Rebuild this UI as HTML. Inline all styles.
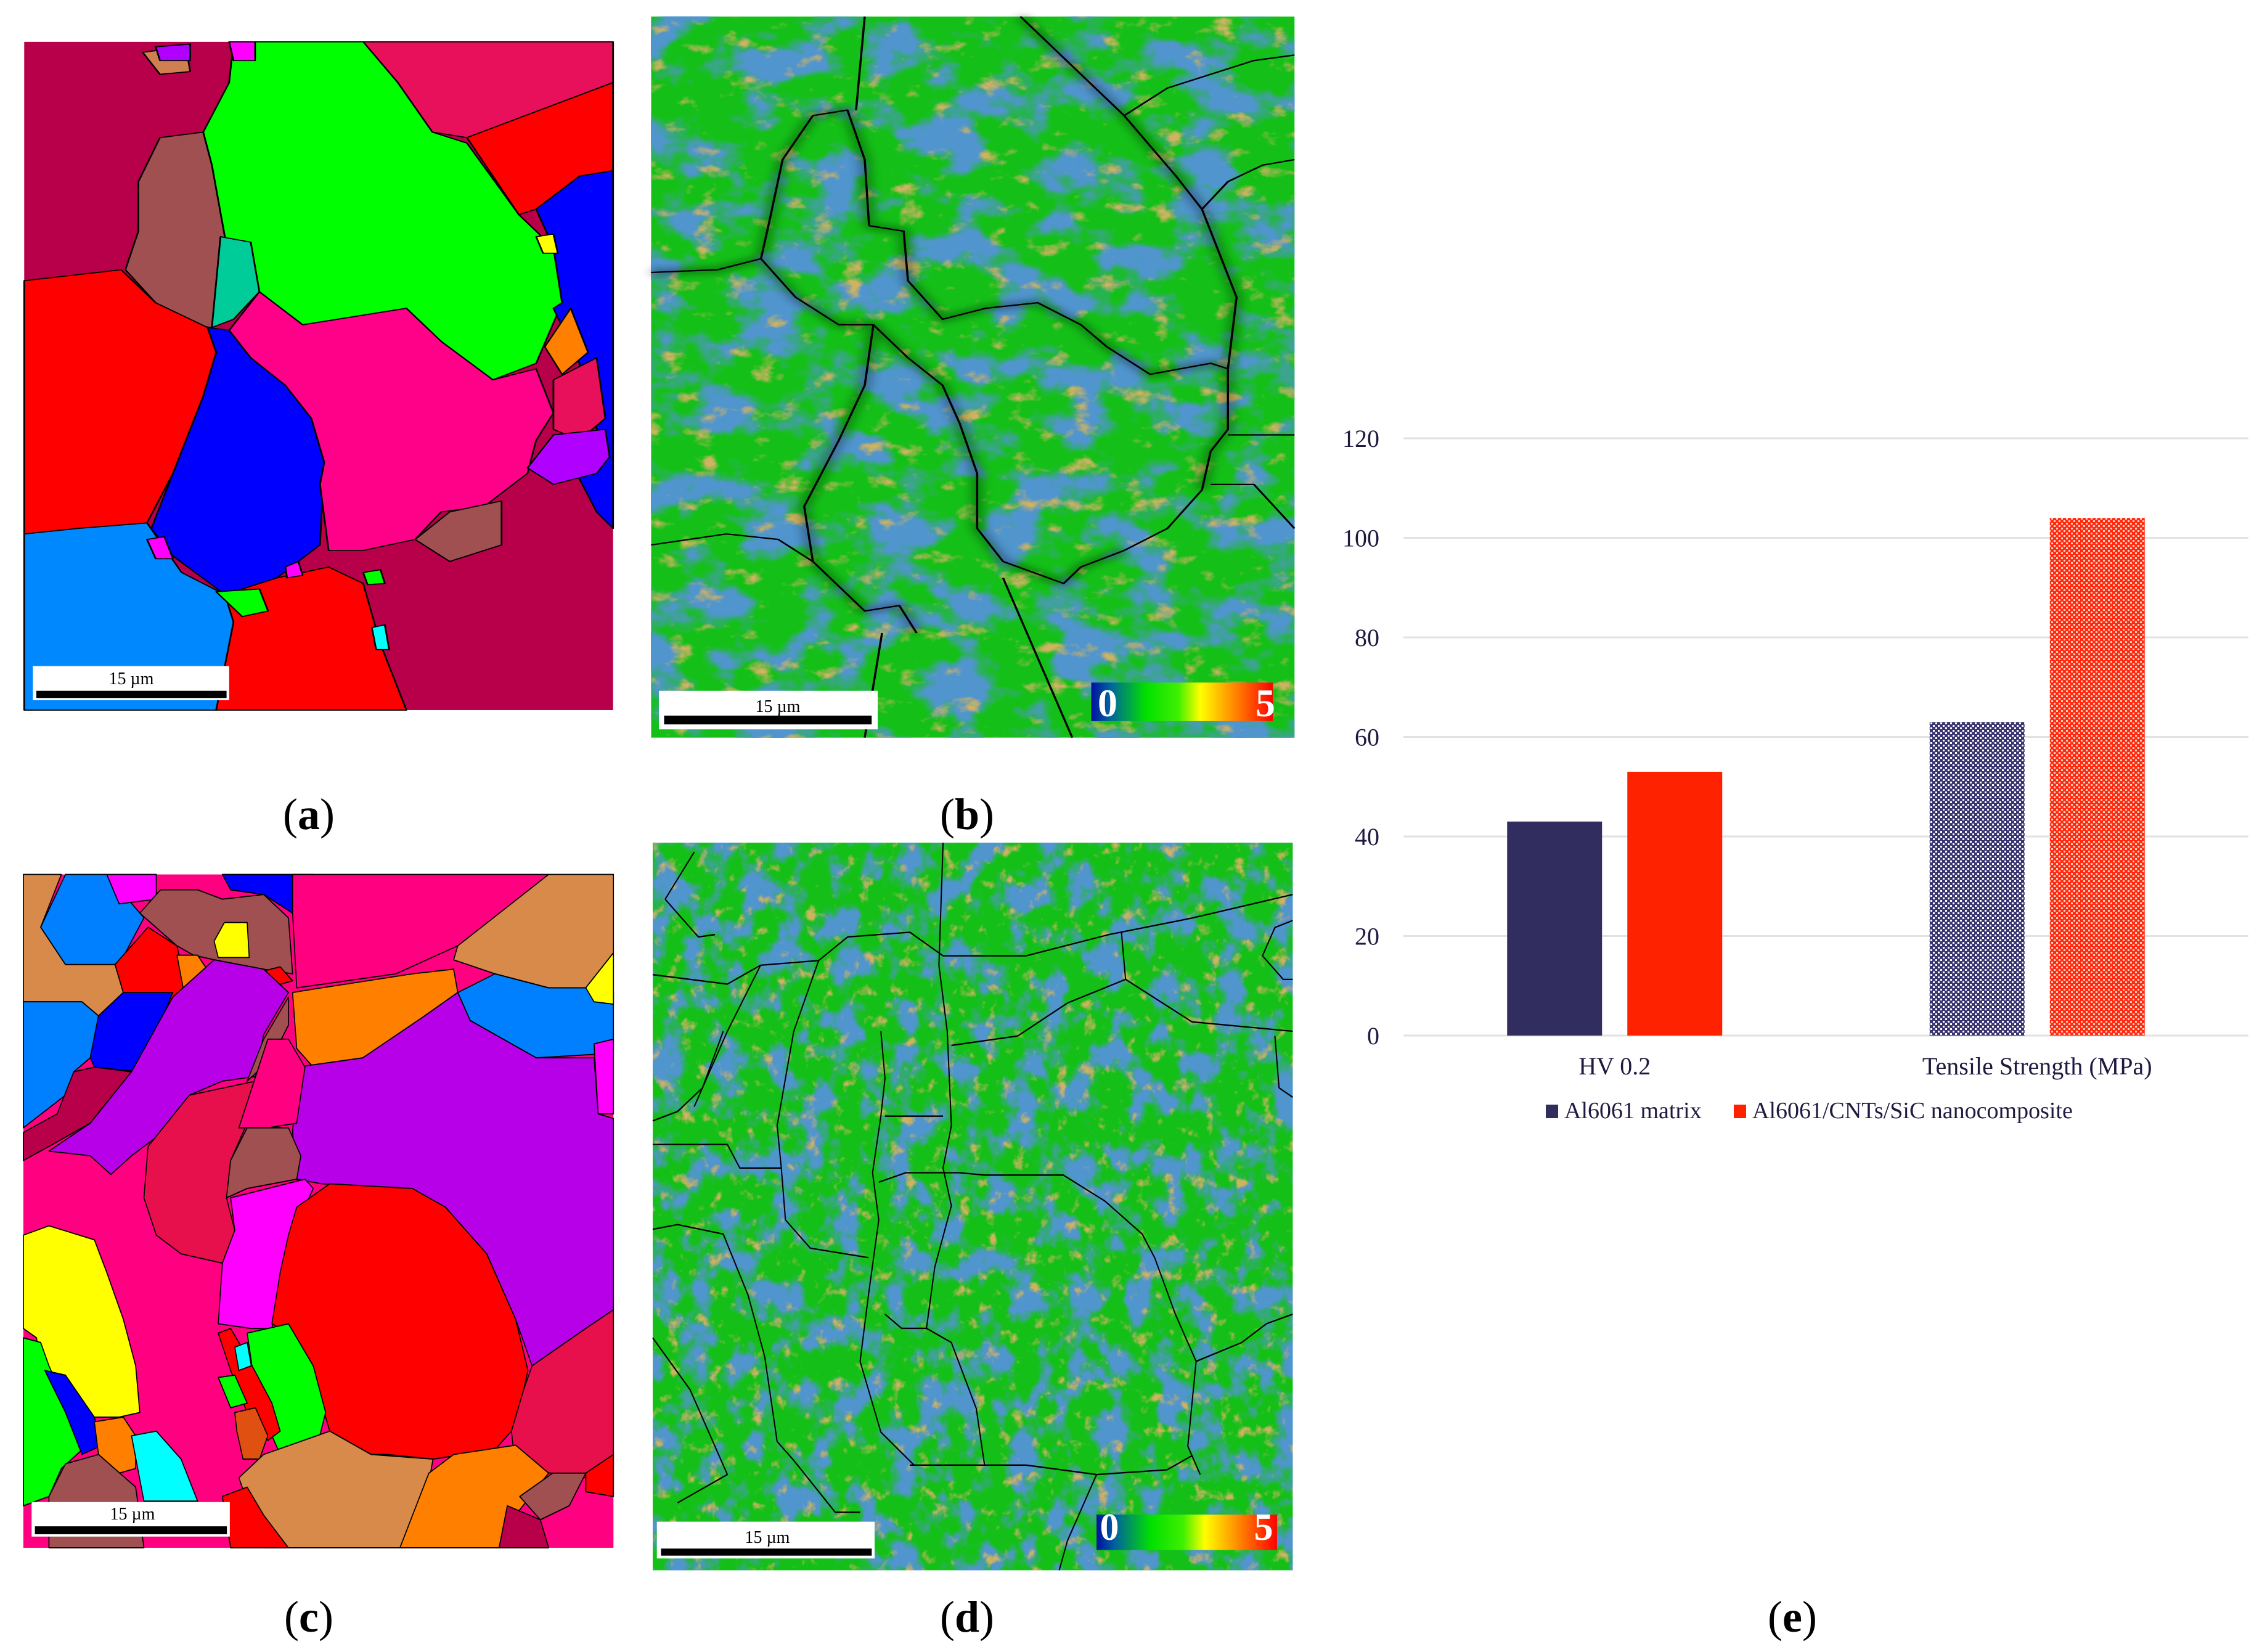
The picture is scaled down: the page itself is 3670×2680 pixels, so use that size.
<!DOCTYPE html>
<html><head><meta charset="utf-8"><style>
html,body{margin:0;padding:0;background:#fff;}
svg{display:block;}
text{font-family:"Liberation Serif",serif;}
</style></head><body>
<svg id="fig" width="3670" height="2680" viewBox="0 0 3670 2680" xmlns="http://www.w3.org/2000/svg">
<defs>
  <filter id="blueNoise" x="0" y="0" width="1" height="1">
    <feTurbulence type="fractalNoise" baseFrequency="0.014" numOctaves="4" seed="3"/>
    <feColorMatrix type="matrix" values="0 0 0 0 0.08  0 0 0 0 0.3  0 0 0 0 0.62  5 0 0 0 -2.3"/>
  </filter>
  <filter id="orangeNoise" x="0" y="0" width="1" height="1">
    <feTurbulence type="fractalNoise" baseFrequency="0.03" numOctaves="4" seed="11"/>
    <feColorMatrix type="matrix" values="0 0 0 0 0.62  0 0 0 0 0.45  0 0 0 0 0.12  4.5 0 0 0 -2.75"/>
  </filter>
  <filter id="blurDark"><feGaussianBlur stdDeviation="6"/></filter>
  <linearGradient id="cbar" x1="0" x2="1" y1="0" y2="0">
    <stop offset="0" stop-color="#0010a0"/><stop offset="0.1" stop-color="#0060a0"/>
    <stop offset="0.3" stop-color="#00e000"/><stop offset="0.48" stop-color="#40f000"/>
    <stop offset="0.6" stop-color="#ffff00"/><stop offset="0.8" stop-color="#ff8000"/>
    <stop offset="1" stop-color="#ff0000"/>
  </linearGradient>
  <pattern id="patNavy" width="8" height="8" patternUnits="userSpaceOnUse">
    <rect width="8" height="8" fill="#3a3570"/>
    <rect x="0" y="0" width="3" height="3" fill="#ffffff"/>
    <rect x="4" y="4" width="3" height="3" fill="#ffffff"/>
  </pattern>
  <pattern id="patRed" width="8" height="8" patternUnits="userSpaceOnUse">
    <rect width="8" height="8" fill="#ff2a10"/>
    <rect x="0" y="0" width="3" height="3" fill="#ffd0c0"/>
    <rect x="4" y="4" width="3" height="3" fill="#ffd0c0"/>
  </pattern>
</defs>

<!-- Panel (a) -->
<g transform="scale(1.403,0.893)" stroke="#000" stroke-width="2" stroke-linejoin="round">
  <rect x="28" y="76" width="681" height="1214" fill="#b8004a" stroke="none"/>
  <polygon fill="#e8105a" points="420,76 709,76 709,150 540,250 500,240 460,150"/>
  <polygon fill="#00ff00" points="270,76 420,76 460,150 500,240 540,260 600,390 640,450 650,550 620,660 570,690 510,620 470,560 350,590 300,530 260,430 245,300 235,240 265,150"/>
  <polygon fill="#ff0000" points="540,250 709,150 709,310 670,320 620,380 600,390"/>
  <polygon fill="#0000ff" points="620,380 670,320 709,310 709,960 690,930 670,870 690,780 670,660 640,560 650,550 640,450"/>
  <polygon fill="#a05050" points="160,330 185,250 235,240 245,300 260,430 255,520 245,595 220,590 180,550 145,490 160,420"/>
  <polygon fill="#00cc99" points="255,430 290,440 300,530 270,580 245,595"/>
  <polygon fill="#ff0000" points="28,510 140,490 180,550 240,595 250,640 235,720 200,860 170,950 90,960 28,970"/>
  <polygon fill="#0000ff" points="240,595 265,600 290,650 330,700 360,760 375,840 370,990 320,1050 260,1080 200,1010 175,960 200,860 235,720 250,640"/>
  <polygon fill="#ff0088" points="265,600 300,530 350,590 470,560 510,620 570,690 620,670 640,750 620,800 610,860 560,920 510,930 480,980 420,1000 380,1000 370,880 375,840 360,760 330,700 290,650"/>
  <polygon fill="#ff8000" points="630,630 660,560 680,640 650,680"/>
  <polygon fill="#e8105a" points="640,690 690,650 700,760 670,800 640,780"/>
  <polygon fill="#b000ff" points="610,850 640,790 700,780 705,830 690,860 640,880"/>
  <polygon fill="#a05050" points="480,980 520,930 580,910 580,990 520,1020"/>
  <polygon fill="#0088ff" points="28,970 90,960 170,950 210,1040 260,1080 280,1130 250,1290 28,1290"/>
  <polygon fill="#ff0000" points="260,1080 320,1050 380,1030 420,1060 440,1170 470,1290 250,1290 270,1130"/>
  <polygon fill="#ff00ff" points="330,1030 345,1020 350,1045 332,1050"/>
  <polygon fill="#00ff00" points="250,1075 300,1070 310,1110 280,1120"/>
  <polygon fill="#00ff00" points="420,1040 440,1035 445,1060 425,1062"/>
  <polygon fill="#ff00ff" points="170,980 190,975 200,1015 180,1015"/>
  <polygon fill="#ffff00" points="620,430 640,425 645,460 628,460"/>
  <polygon fill="#00ffff" points="430,1140 445,1135 450,1180 435,1180"/>
  <polygon fill="#ff00ff" points="265,76 295,76 295,110 270,110"/>
  <polygon fill="#d08050" points="165,95 215,85 220,130 185,135"/>
  <polygon fill="#b000ff" points="180,85 220,80 220,110 185,110"/>
  <rect x="38" y="1210" width="227" height="62" fill="#fff" stroke="none"/>
  <rect x="42" y="1255" width="220" height="13" fill="#000" stroke="none"/>
</g>
<text x="213" y="1110" font-size="28" text-anchor="middle" fill="#000" font-family="Liberation Sans, sans-serif">15 µm</text>

<!-- Panel (b) -->
<g transform="scale(1.403,0.893)">
  <rect x="753" y="30" width="744" height="1310" fill="#14c018"/>
  <rect x="753" y="30" width="744" height="1310" fill="#000" filter="url(#blueNoise)"/>
  <rect x="753" y="30" width="744" height="1310" fill="#000" filter="url(#orangeNoise)"/>
  <g fill="none" stroke-linejoin="round">
    <g stroke="#000" stroke-width="14" opacity="0.3" filter="url(#blurDark)">
      <polyline points="940,210 905,290 890,400 880,470 830,490 753,495"/>
      <polyline points="940,210 980,200 1000,290 1005,410 1045,420 1050,510 1090,580 1140,560 1200,550 1250,590 1280,630 1330,680 1400,660 1420,670"/>
      <polyline points="1180,30 1240,120 1300,210 1360,320 1390,380 1430,540 1420,670 1420,780 1400,820 1390,890"/>
      <polyline points="880,470 920,540 970,590 1010,590 1000,700 970,800 930,920 940,1020 980,1080 1000,1110 1040,1100 1060,1150"/>
      <polyline points="1010,590 1050,650 1090,700 1110,770 1130,860 1130,960 1160,1020 1230,1060 1250,1030 1300,1000"/>
    </g>
    <g stroke="#000" stroke-width="2.5">
      <polyline points="940,210 905,290 890,400 880,470 830,490 753,495"/>
      <polyline points="940,210 980,200 1000,290 1005,410 1045,420 1050,510 1090,580 1140,560 1200,550 1250,590 1280,630 1330,680 1400,660 1420,670"/>
      <polyline points="1000,30 990,200"/>
      <polyline points="1180,30 1240,120 1300,210 1360,320 1390,380 1430,540 1420,670 1420,780 1400,820 1390,890"/>
      <polyline points="880,470 920,540 970,590 1010,590 1000,700 970,800 930,920 940,1020 980,1080 1000,1110 1040,1100 1060,1150"/>
      <polyline points="1010,590 1050,650 1090,700 1110,770 1130,860 1130,960 1160,1020 1230,1060 1250,1030 1300,1000"/>
      <polyline points="753,990 840,970 900,980 940,1020"/>
      <polyline points="1300,210 1350,160 1450,110 1497,100"/>
      <polyline points="1390,380 1420,330 1460,300 1497,290"/>
      <polyline points="1420,790 1497,790"/>
      <polyline points="1400,880 1450,880 1497,960"/>
      <polyline points="1020,1150 1000,1340"/>
      <polyline points="1160,1050 1240,1340"/>
      <polyline points="1300,1000 1350,960 1390,890"/>
    </g>
  </g>
  <rect x="1262" y="1240" width="210" height="70" fill="url(#cbar)"/>
  <rect x="762" y="1255" width="253" height="70" fill="#fff"/>
  <rect x="768" y="1300" width="240" height="16" fill="#000"/>
</g>
<text x="1262" y="1155" font-size="28" text-anchor="middle" fill="#000" font-family="Liberation Sans, sans-serif">15 µm</text>
<text x="1797" y="1162" font-size="64" text-anchor="middle" fill="#fff" font-weight="bold">0</text>
<text x="2053" y="1162" font-size="64" text-anchor="middle" fill="#fff" font-weight="bold">5</text>

<!-- Panel (c) -->
<g transform="translate(-1,1383) scale(0.670,0.757)" stroke="#000" stroke-width="2.5" stroke-linejoin="round">
  <rect x="58" y="47" width="1429" height="1443" fill="#ff0080" stroke="none"/>
  <polygon fill="#d88a4a" points="58,47 150,47 100,160 160,240 280,240 300,300 240,350 200,320 58,320"/>
  <polygon fill="#0080ff" points="160,47 260,47 350,140 290,240 160,240 100,160"/>
  <polygon fill="#ff00ff" points="260,47 380,47 380,100 290,110"/>
  <polygon fill="#a05050" points="340,130 390,80 480,80 540,100 640,90 700,140 710,260 640,250 520,230 470,220 430,200"/>
  <polygon fill="#0000ff" points="540,47 760,47 710,130 640,90 560,80"/>
  <polygon fill="#ff0080" points="710,47 1330,47 1250,140 1110,200 960,260 720,290 710,130"/>
  <polygon fill="#d88a4a" points="1110,200 1330,47 1487,47 1487,215 1420,290 1330,290 1200,260 1100,230"/>
  <polygon fill="#ffff00" points="520,190 545,150 600,150 605,225 530,225"/>
  <polygon fill="#ff0000" points="280,240 360,160 430,200 460,320 420,320 300,300"/>
  <polygon fill="#ff8000" points="430,220 480,220 510,260 470,290 445,290"/>
  <polygon fill="#ff0000" points="635,255 680,245 710,275 650,290"/>
  <polygon fill="#0080ff" points="58,320 200,320 240,350 220,440 180,470 160,520 58,590"/>
  <polygon fill="#0000ff" points="240,350 300,300 420,300 340,470 230,460 220,440"/>
  <polygon fill="#b8004a" points="58,600 140,560 180,470 230,460 320,470 220,580 120,630 58,660"/>
  <polygon fill="#b800e8" points="120,640 220,580 320,470 420,310 520,230 640,250 700,300 640,390 620,480 540,490 460,520 380,610 320,650 270,690 220,650"/>
  <polygon fill="#ff8000" points="710,300 780,290 1000,260 1100,250 1110,300 1030,350 960,400 880,440 760,460 720,420"/>
  <polygon fill="#0080ff" points="1110,300 1200,260 1330,290 1420,290 1487,300 1487,430 1300,440 1220,400 1140,360"/>
  <polygon fill="#ffff00" points="1487,215 1487,325 1440,320 1420,290"/>
  <polygon fill="#a05050" points="600,490 640,400 700,310 700,370 660,440"/>
  <polygon fill="#b800e8" points="720,460 880,440 1030,350 1110,300 1140,360 1220,400 1300,440 1440,440 1450,560 1487,570 1487,980 1420,1020 1290,1100 1250,1000 1180,860 1080,760 1000,720 780,710 720,700 710,600"/>
  <polygon fill="#ff00ff" points="1440,410 1487,400 1487,560 1450,560"/>
  <polygon fill="#e8104c" points="360,630 460,520 620,490 600,580 560,660 550,740 570,810 540,880 440,860 380,820 350,740"/>
  <polygon fill="#ff0080" points="580,590 650,400 700,400 740,460 720,580 650,590"/>
  <polygon fill="#a05050" points="560,660 600,590 700,590 730,650 720,700 600,720 550,740"/>
  <polygon fill="#ff00ff" points="560,740 740,700 760,720 720,800 680,900 660,1020 610,1020 530,1010 540,880 570,810"/>
  <polygon fill="#ff0000" points="720,760 800,710 1000,720 1080,760 1180,860 1250,1000 1280,1110 1250,1230 1200,1280 1050,1300 940,1290 900,1290 800,1240 770,1150 740,1080 700,1030 660,1010 680,900 700,820"/>
  <polygon fill="#e8104c" points="1290,1100 1420,1020 1487,980 1487,1320 1420,1340 1250,1320 1240,1240 1270,1150"/>
  <polygon fill="#ffff00" points="58,820 120,800 230,830 260,900 300,1000 330,1100 340,1200 290,1210 230,1210 160,1160 100,1100 90,1040 58,1020"/>
  <polygon fill="#00ff00" points="58,1040 100,1050 120,1100 160,1180 200,1280 150,1320 120,1380 58,1400"/>
  <polygon fill="#0000ff" points="110,1110 160,1120 230,1210 250,1270 200,1290 160,1200"/>
  <polygon fill="#ff8000" points="230,1220 300,1210 330,1250 330,1320 290,1330 240,1290"/>
  <polygon fill="#00ffff" points="320,1250 380,1240 440,1300 480,1390 350,1390"/>
  <polygon fill="#a05050" points="120,1380 160,1310 240,1290 330,1360 350,1490 120,1490"/>
  <polygon fill="#00ff00" points="600,1030 700,1010 760,1100 790,1200 770,1270 680,1290 650,1230 620,1150"/>
  <polygon fill="#ff0000" points="530,1030 560,1020 600,1080 660,1180 680,1240 650,1260 600,1200 560,1110"/>
  <polygon fill="#00ffff" points="570,1060 600,1050 610,1100 580,1110"/>
  <polygon fill="#00ff00" points="530,1125 570,1120 600,1180 560,1190"/>
  <polygon fill="#e05010" points="570,1200 620,1190 650,1250 630,1300 590,1300 575,1240"/>
  <polygon fill="#d88a4a" points="580,1340 640,1290 800,1240 900,1290 1050,1300 1040,1350 970,1490 640,1490"/>
  <polygon fill="#ff8000" points="1040,1330 1100,1290 1250,1270 1330,1330 1250,1420 1210,1490 970,1490"/>
  <polygon fill="#a05050" points="1260,1380 1340,1330 1420,1330 1380,1400 1310,1430"/>
  <polygon fill="#ff0000" points="1420,1330 1487,1290 1487,1380 1420,1370"/>
  <polygon fill="#b8004a" points="1210,1490 1230,1400 1310,1430 1330,1490"/>
  <polygon fill="#ff0000" points="540,1380 600,1360 640,1420 700,1490 560,1490"/>
  <rect x="78" y="1392" width="480" height="74" fill="#fff" stroke="none"/>
  <rect x="86" y="1444" width="465" height="17" fill="#000" stroke="none"/>
</g>
<text x="215" y="2465" font-size="28" text-anchor="middle" fill="#000" font-family="Liberation Sans, sans-serif">15 µm</text>

<!-- Panel (d) -->
<g transform="translate(1059,1367) scale(0.673,0.765)">
  <rect x="0" y="0" width="1543" height="1543" fill="#14c018"/>
  <rect x="0" y="0" width="1543" height="1543" fill="#000" filter="url(#blueNoise)"/>
  <rect x="0" y="0" width="1543" height="1543" fill="#000" filter="url(#orangeNoise)"/>
  <g fill="none" stroke="#000" stroke-width="3" stroke-linejoin="round">
    <polyline points="0,280 180,300 260,260 400,250 470,200 620,190 700,240 900,240 1100,195 1300,160 1543,110"/>
    <polyline points="700,0 690,260 710,400 720,600 700,690 720,770 680,900 660,1030 720,1060 780,1200 800,1320"/>
    <polyline points="30,120 100,20"/>
    <polyline points="30,120 110,200 150,195"/>
    <polyline points="720,430 880,410 1000,340 1140,290 1300,380 1543,400"/>
    <polyline points="1140,290 1130,190"/>
    <polyline points="0,640 180,640 210,690 310,690 320,800 380,860 520,880"/>
    <polyline points="0,820 60,810 170,830 230,960 270,1090 300,1270 340,1310 440,1420 500,1420"/>
    <polyline points="170,400 120,520 60,570 0,590"/>
    <polyline points="550,400 560,500 550,580 530,700 545,800 520,960 500,1100 550,1250 630,1320"/>
    <polyline points="560,580 700,580"/>
    <polyline points="545,720 610,700 740,700 800,705 990,705 1090,760 1180,830 1210,880 1260,1000 1310,1100 1290,1280 1320,1340"/>
    <polyline points="620,1320 900,1320 1070,1340 1240,1330 1300,1300"/>
    <polyline points="1310,1100 1420,1060 1480,1020 1543,1000"/>
    <polyline points="1070,1340 1000,1480 980,1543"/>
    <polyline points="0,1050 90,1160 180,1340 60,1400"/>
    <polyline points="1470,240 1500,180 1543,165"/>
    <polyline points="1470,240 1520,290 1543,290"/>
    <polyline points="1500,410 1510,520 1543,540"/>
    <polyline points="560,1000 600,1030 660,1030"/>
    <polyline points="260,260 180,400 100,560"/>
    <polyline points="400,250 340,400 300,600 310,690"/>
  </g>
  <rect x="1070" y="1425" width="435" height="75" fill="url(#cbar)"/>
  <rect x="10" y="1440" width="525" height="78" fill="#fff"/>
  <rect x="20" y="1497" width="508" height="15" fill="#000"/>
</g>
<text x="1245" y="2503" font-size="28" text-anchor="middle" fill="#000" font-family="Liberation Sans, sans-serif">15 µm</text>
<text x="1800" y="2498" font-size="62" text-anchor="middle" fill="#fff" font-weight="bold">0</text>
<text x="2050" y="2498" font-size="62" text-anchor="middle" fill="#fff" font-weight="bold">5</text>

<!-- panel labels -->
<text x="501" y="1345" font-size="72" text-anchor="middle" fill="#000">(<tspan font-weight="bold">a</tspan>)</text>
<text x="1569" y="1345" font-size="72" text-anchor="middle" fill="#000">(<tspan font-weight="bold">b</tspan>)</text>
<text x="501" y="2647" font-size="72" text-anchor="middle" fill="#000">(<tspan font-weight="bold">c</tspan>)</text>
<text x="1569" y="2647" font-size="72" text-anchor="middle" fill="#000">(<tspan font-weight="bold">d</tspan>)</text>
<text x="2908" y="2647" font-size="72" text-anchor="middle" fill="#000">(<tspan font-weight="bold">e</tspan>)</text>

<g id="chart"></g>
</svg>
<script>
const categories = ["HV 0.2", "Tensile Strength (MPa)"];
const matrixValues = [43, 63];
const compositeValues = [53, 104];
const tickValues = [0, 20, 40, 60, 80, 100, 120];
const seriesNames = ["Al6061 matrix", "Al6061/CNTs/SiC nanocomposite"];

const NS = "http://www.w3.org/2000/svg";
const chart = document.getElementById("chart");
const plotL = 2277, plotR = 3648, plotTop = 711, plotBottom = 1680;
const yMax = 120;
const y = v => plotBottom - (v / yMax) * (plotBottom - plotTop);
const bandW = (plotR - plotL) / categories.length;
const xc = i => plotL + bandW * (i + 0.5);
const barW = 154, gap = 41;
function mk(tag, attrs){ const e = document.createElementNS(NS, tag); for (const k in attrs) e.setAttribute(k, attrs[k]); chart.appendChild(e); return e; }

tickValues.forEach(t => {
  const g = mk("line", {x1: plotL, x2: plotR, y1: y(t), y2: y(t), stroke: "#e2e2e2", "stroke-width": 3});
  
  
  const lbl = mk("text", {x: 2238, y: y(t) + 14, "font-size": 40, "text-anchor": "end", fill: "#1e1a40"});
  lbl.textContent = String(t);
  
  
});

categories.forEach((c, i) => {
  const solid = i === 0;
  const b1 = mk("rect", {x: xc(i) - gap/2 - barW, y: y(matrixValues[i]), width: barW, height: y(0) - y(matrixValues[i]), fill: solid ? "#322d5f" : "url(#patNavy)"});
  
  
  const b2 = mk("rect", {x: xc(i) + gap/2, y: y(compositeValues[i]), width: barW, height: y(0) - y(compositeValues[i]), fill: solid ? "#ff2200" : "url(#patRed)"});
  
  
  const lbl = mk("text", {x: xc(i), y: 1743, "font-size": 40, "text-anchor": "middle", fill: "#1e1a40"});
  lbl.textContent = c;
  
  
});

const legendColors = ["#322d5f", "#ff2200"];
const legendX = [2508, 2813];
seriesNames.forEach((n, i) => {
  const sw = mk("rect", {x: legendX[i], y: 1792, width: 20, height: 22, fill: legendColors[i]});
  
  
  const t = mk("text", {x: legendX[i] + 30, y: 1814, "font-size": 38, fill: "#1e1a40"});
  t.textContent = n;
  
  
});
</script>
</body></html>
